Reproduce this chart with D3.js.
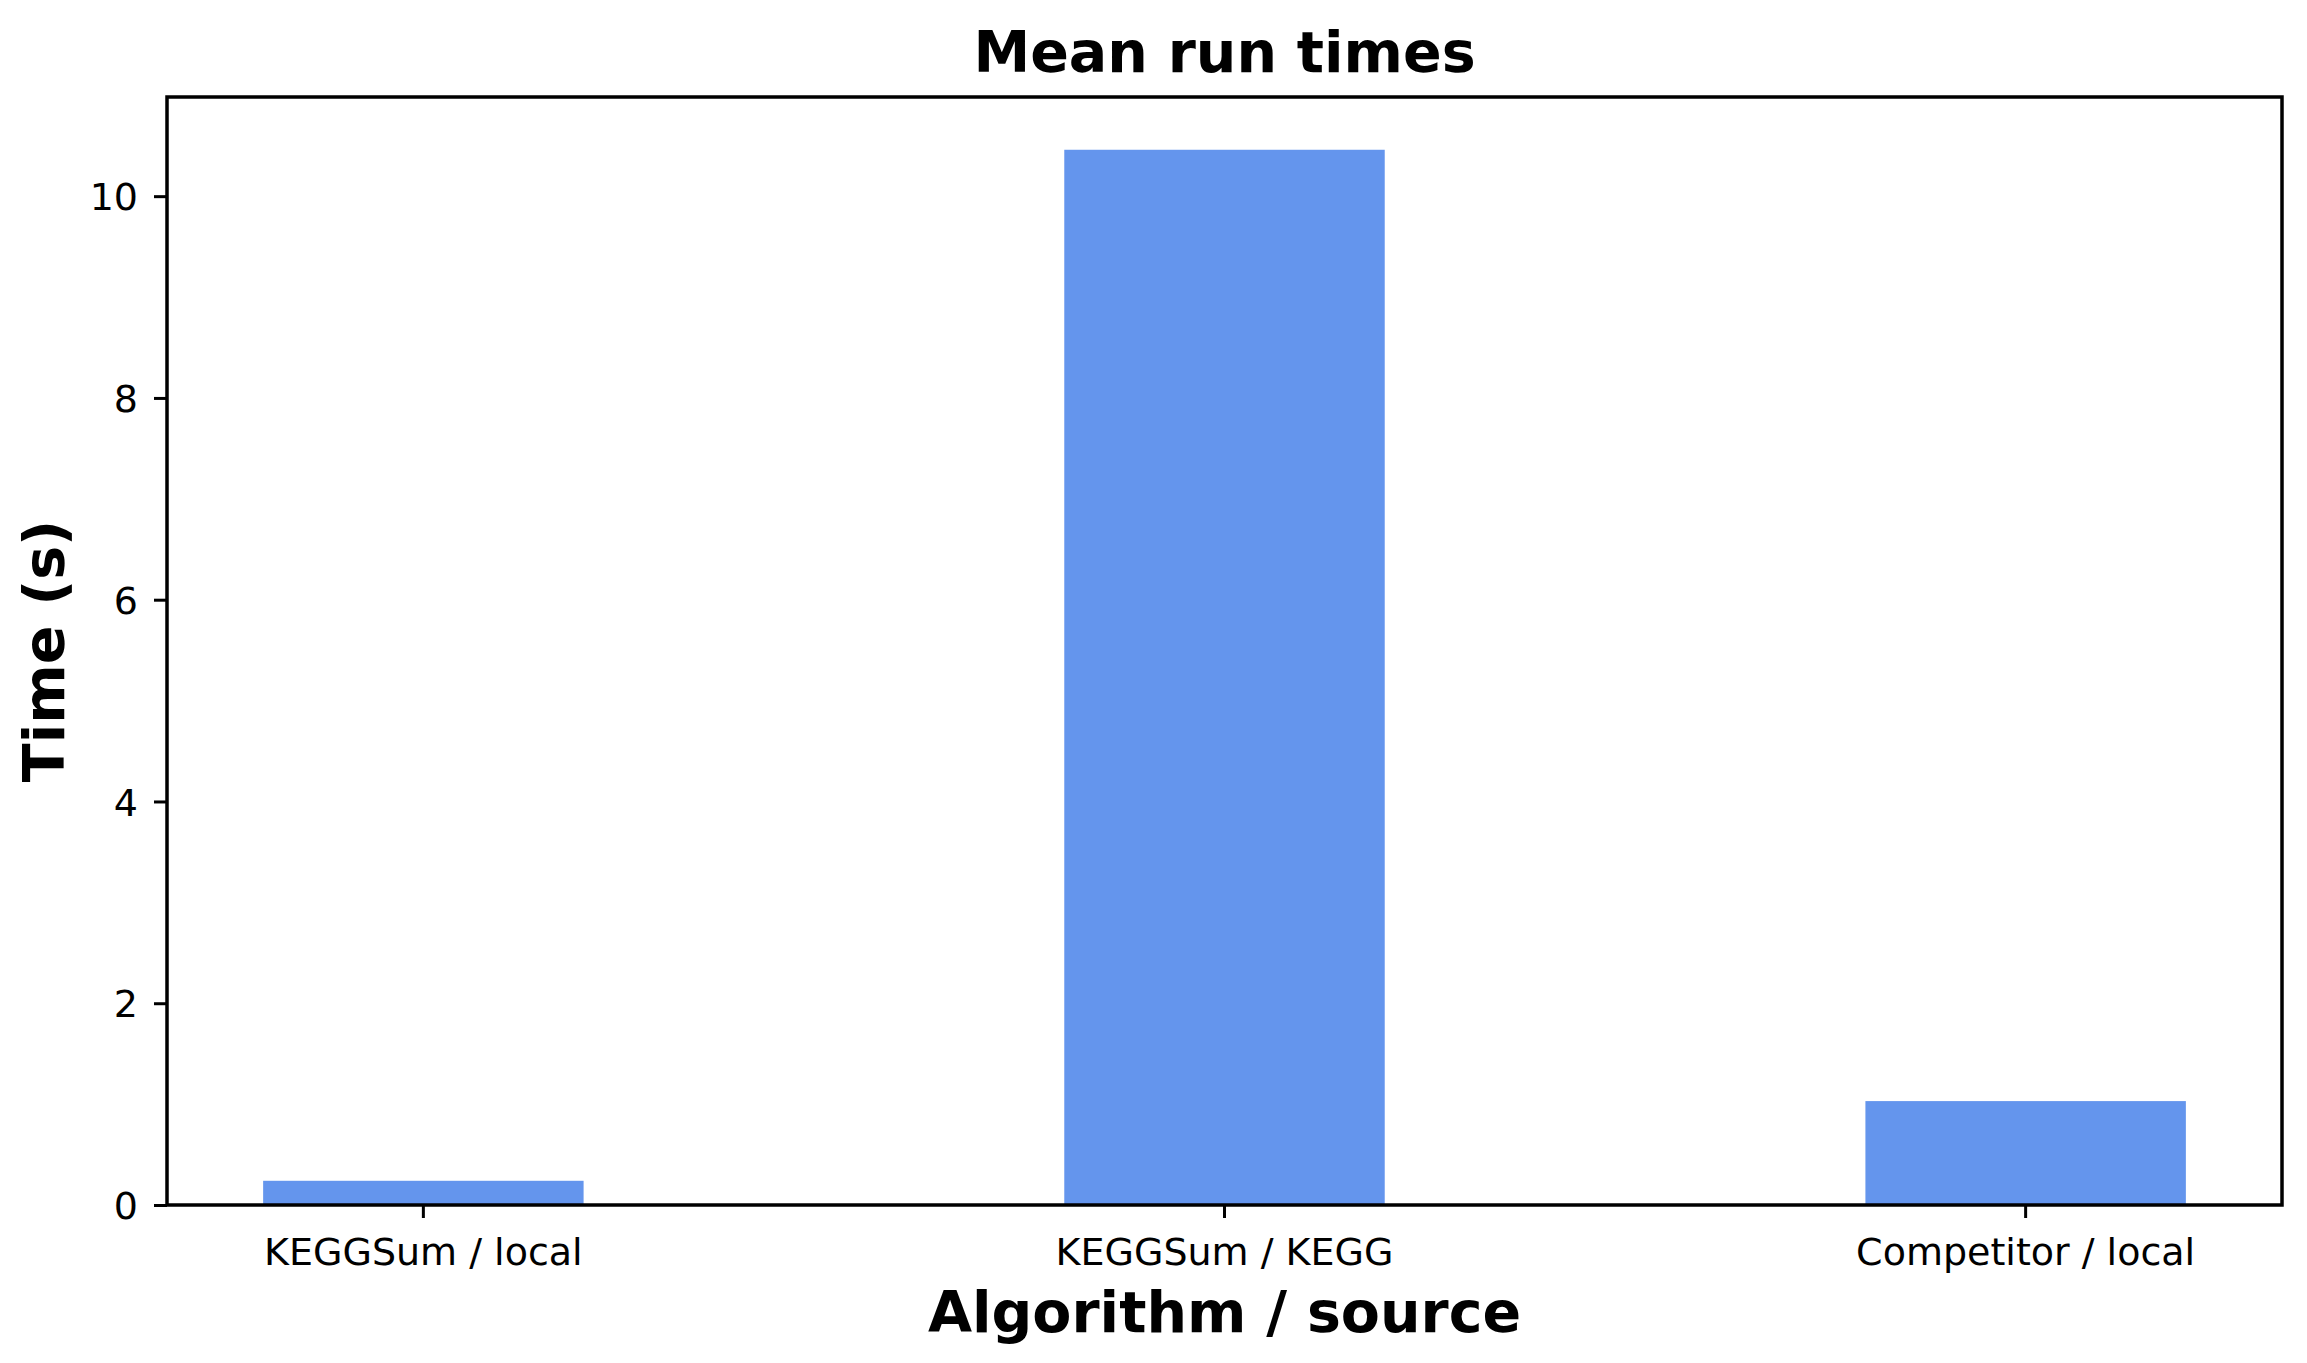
<!DOCTYPE html>
<html>
<head>
<meta charset="utf-8">
<script src="https://cdn.jsdelivr.net/npm/d3@7"></script>
<style>
  html, body { margin: 0; padding: 0; background: #fff; }
  svg { display: block; font-family: "DejaVu Sans", sans-serif; }
</style>
</head>
<body>
<svg id="chart" width="2307" height="1363"></svg>
<script>
const categories = ["KEGGSum / local", "KEGGSum / KEGG", "Competitor / local"];
const values = [0.24, 10.46, 1.03];
const yTicks = [0, 2, 4, 6, 8, 10];
const title = "Mean run times";
const xLabel = "Algorithm / source";
const yLabel = "Time (s)";

const W = 2307, H = 1363;
const m = { left: 167, right: 2282, top: 97, bottom: 1205 };
const svg = d3.select("#chart");

const x = d3.scaleBand()
  .domain(categories)
  .range([m.left, m.right])
  .paddingInner(0.6)
  .paddingOuter(0.12);

const y = d3.scaleLinear()
  .domain([0, d3.max(values) * 1.05])
  .range([m.bottom, m.top]);

// bars
svg.append("g").selectAll("rect")
  .data(values)
  .join("rect")
  .attr("x", (d, i) => x(categories[i]))
  .attr("width", x.bandwidth())
  .attr("y", d => y(d))
  .attr("height", d => y(0) - y(d))
  .attr("fill", "#6495ED");

// axes
const yAxis = svg.append("g")
  .attr("transform", `translate(${m.left},0)`)
  .call(d3.axisLeft(y).tickValues(yTicks).tickSize(13).tickPadding(16).tickFormat(d3.format("d")));
yAxis.select(".domain").remove();
yAxis.selectAll(".tick line").attr("stroke", "#000").attr("stroke-width", 3);
yAxis.selectAll(".tick text")
  .attr("font-size", 38).attr("font-family", "DejaVu Sans").attr("fill", "#000")
  .attr("dy", "0.36em");

const xAxis = svg.append("g")
  .attr("transform", `translate(0,${m.bottom})`)
  .call(d3.axisBottom(x).tickSize(13).tickPadding(20));
xAxis.select(".domain").remove();
xAxis.selectAll(".tick line").attr("stroke", "#000").attr("stroke-width", 3);
xAxis.selectAll(".tick text")
  .attr("font-size", 38).attr("font-family", "DejaVu Sans").attr("fill", "#000");

// frame
svg.append("rect")
  .attr("x", m.left).attr("y", m.top)
  .attr("width", m.right - m.left).attr("height", m.bottom - m.top)
  .attr("fill", "none").attr("stroke", "#000").attr("stroke-width", 3.5);

// title and labels
const cx = (m.left + m.right) / 2;
svg.append("text")
  .attr("x", cx).attr("y", 72)
  .attr("text-anchor", "middle")
  .attr("font-size", 57).attr("font-weight", "bold")
  .text(title);

svg.append("text")
  .attr("x", cx).attr("y", 1332)
  .attr("text-anchor", "middle")
  .attr("font-size", 57).attr("font-weight", "bold")
  .text(xLabel);

svg.append("text")
  .attr("transform", `translate(64,${(m.top + m.bottom) / 2}) rotate(-90)`)
  .attr("text-anchor", "middle")
  .attr("font-size", 57).attr("font-weight", "bold")
  .text(yLabel);
</script>
</body>
</html>
